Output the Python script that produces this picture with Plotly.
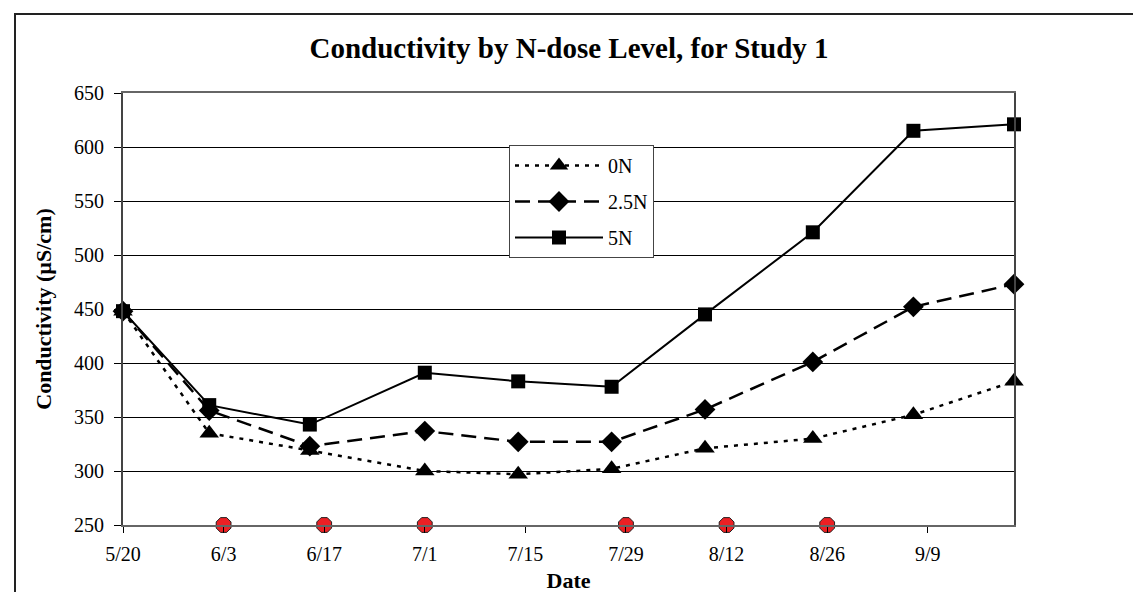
import plotly.graph_objects as go

# Fechas de muestreo y conductividad por dosis de N
fechas = ['2003-05-20', '2003-06-01', '2003-06-15', '2003-07-01', '2003-07-14',
          '2003-07-27', '2003-08-09', '2003-08-24', '2003-09-07', '2003-09-21']
cond_0n = [448, 335, 319, 300, 297, 302, 321, 330, 352, 383]
cond_25n = [448, 356, 323, 337, 327, 327, 357, 401, 452, 473]
cond_5n = [448, 361, 343, 391, 383, 378, 445, 521, 615, 621]

# Eventos marcados sobre el eje x
fechas_eventos = ['2003-06-03', '2003-06-17', '2003-07-01', '2003-07-29', '2003-08-12', '2003-08-26']
nivel_eventos = [250, 250, 250, 250, 250, 250]

FUENTE = 'Liberation Serif'

fig = go.Figure()

fig.add_trace(go.Scatter(
    x=fechas, y=cond_0n, name='0N', mode='lines+markers', legendgroup='a',
    line=dict(color='black', width=2.5, dash='4px,6px'),
    marker=dict(symbol='triangle-up', size=17, color='black'),
    cliponaxis=False))
fig.add_trace(go.Scatter(
    x=fechas, y=cond_25n, name='2.5N', mode='lines+markers', legendgroup='b',
    line=dict(color='black', width=2.5, dash='15px,8px'),
    marker=dict(symbol='diamond', size=16, color='black'),
    cliponaxis=False))
fig.add_trace(go.Scatter(
    x=fechas, y=cond_5n, name='5N', mode='lines+markers', legendgroup='c',
    line=dict(color='black', width=2),
    marker=dict(symbol='square', size=14, color='black'),
    cliponaxis=False))
fig.add_trace(go.Scatter(
    x=fechas_eventos, y=nivel_eventos, mode='markers', showlegend=False,
    marker=dict(symbol='octagon', size=16, color='#ec2024',
                line=dict(color='#222', width=1)),
    cliponaxis=False))

# Marco exterior del grafico (solo visibles borde superior e izquierdo)
fig.add_shape(type='rect', xref='paper', yref='paper',
              x0=(7 - 115) / 891, x1=1.3, y0=-0.5, y1=(517 - 6) / 432,
              line=dict(color='#222', width=2), layer='below')

fig.update_layout(
    width=1141, height=592,
    margin=dict(l=115, r=135, t=85, b=75),
    paper_bgcolor='white', plot_bgcolor='white',
    font=dict(family=FUENTE, size=20, color='black'),
    title=dict(text='<b>Conductivity by N-dose Level, for Study 1</b>',
               x=561 / 1141, xanchor='center', y=1 - 40 / 592, yanchor='middle',
               font=dict(size=29, family=FUENTE, color='black')),
    legend=dict(x=(501 - 115) / 891, y=(517 - 137) / 432, xanchor='left', yanchor='top',
                bgcolor='white', bordercolor='#444', borderwidth=1,
                font=dict(size=20, family=FUENTE), itemwidth=88,
                tracegroupgap=7),
    showlegend=True,
)

fig.update_xaxes(
    type='date', range=['2003-05-20', '2003-09-21'],
    tick0='2003-05-20', dtick=14 * 86400000, tickformat='%-m/%-d',
    ticks='outside', ticklen=6, tickcolor='black', ticklabelstandoff=4,
    showgrid=False, showline=True, linecolor='#666', linewidth=2, mirror=True,
    title=dict(text='<b>Date</b>', font=dict(size=22, family=FUENTE), standoff=9),
    tickfont=dict(size=20, family=FUENTE))
fig.update_yaxes(
    range=[250, 650], dtick=50,
    ticks='outside', ticklen=7, tickcolor='black', ticklabelstandoff=6,
    showgrid=True, gridcolor='black', gridwidth=1, zeroline=False,
    showline=True, linecolor='#444', linewidth=2, mirror=True,
    title=dict(text='<b>Conductivity (µS/cm)</b>', font=dict(size=22, family=FUENTE), standoff=16),
    tickfont=dict(size=20, family=FUENTE))

fig.write_html('out.html')
